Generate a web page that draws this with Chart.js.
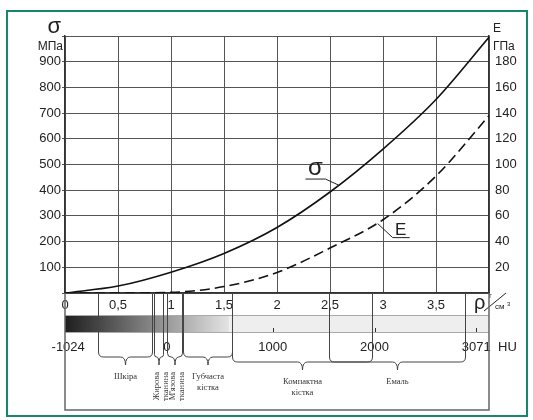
<!DOCTYPE html>
<html lang="uk">
<head>
<meta charset="UTF-8">
<title>σ та E від густини</title>
<script src="https://cdn.jsdelivr.net/npm/chart.js"></script>
<style>
  body { margin: 0; background: #fff; }
</style>
</head>
<body>
<canvas id="chart" width="533" height="420"></canvas>
<script>
// density, g/cm3
const rho = [0, 0.5, 1, 1.5, 2, 2.5, 3, 3.5, 4];
// strength, MPa (solid)
const sigmaMPa = [0, 27, 81, 154, 255, 393, 560, 753, 995];
// elastic modulus, GPa (dashed)
const modulusGPa = [0, 0, 0.5, 5, 16, 35, 57, 91, 138];

const rhoTickLabels = ['0', '0,5', '1', '1,5', '2', '2,5', '3', '3,5', ''];

// Hounsfield scale under the density axis
const huLabels = ['-1024', '0', '1000', '2000', '3071'];
const huAtRho = [0.03, 0.96, 1.96, 2.92, 3.88];

// tissue ranges on the density axis
const tissueNames = ['Шкіра', 'Жирова тканина', "М'язова тканина", 'Губчаста кістка', 'Компактна кістка', 'Емаль'];
const tissueFrom = [0.31, 0.84, 0.96, 1.11, 1.58, 2.49];
const tissueTo = [0.82, 0.92, 1.10, 1.58, 2.90, 3.77];

const ink = '#222';
const gridColor = '#555';

const lowerPart = {
  id: 'lowerPart',
  beforeDraw(chart) {
    const ctx = chart.ctx;
    ctx.save();
    ctx.fillStyle = '#fff';
    ctx.fillRect(0, 0, chart.width, chart.height);
    ctx.strokeStyle = '#17876b';
    ctx.lineWidth = 2;
    ctx.strokeRect(7, 11, 520, 405);
    ctx.restore();
  },
  afterDraw(chart) {
    const ctx = chart.ctx;
    const x = chart.scales.x, y = chart.scales.y, y2 = chart.scales.y2;
    const px = v => x.getPixelForValue(v);
    const base = chart.chartArea.bottom;
    ctx.save();

    // axis titles
    ctx.fillStyle = ink;
    ctx.textBaseline = 'middle';
    ctx.font = '22px "Liberation Sans"';
    ctx.textAlign = 'right';
    ctx.fillText('σ', 61, 27);
    ctx.font = '12px "Liberation Sans"';
    ctx.fillText('МПа', 63, 47);
    ctx.textAlign = 'left';
    ctx.fillText('E', 493, 29);
    ctx.fillText('ГПа', 493, 47);

    // density unit
    ctx.font = '20px "Liberation Sans"';
    ctx.fillText('ρ', 474, 303);
    ctx.font = '8px "Liberation Sans"';
    ctx.fillText('г', 489, 296);
    ctx.fillText('см', 495, 307);
    ctx.font = '6px "Liberation Sans"';
    ctx.fillText('3', 507, 304);
    ctx.strokeStyle = ink;
    ctx.lineWidth = 1;
    ctx.beginPath();
    ctx.moveTo(484, 311);
    ctx.lineTo(506, 293);
    ctx.stroke();

    // grey scale bar
    const barTop = base + 22, barH = 18;
    const g = ctx.createLinearGradient(px(0), 0, px(1.55), 0);
    g.addColorStop(0, '#1e1e1e');
    g.addColorStop(0.45, '#777');
    g.addColorStop(0.8, '#bdbdbd');
    g.addColorStop(1, '#e4e4e4');
    ctx.fillStyle = g;
    ctx.fillRect(px(0), barTop, px(1.55) - px(0), barH);
    ctx.fillStyle = '#eeeeee';
    ctx.fillRect(px(1.55), barTop, px(4) - px(1.55), barH);
    ctx.strokeStyle = '#aaa';
    ctx.beginPath();
    ctx.moveTo(px(0), barTop + 0.5); ctx.lineTo(px(4), barTop + 0.5);
    ctx.moveTo(px(0), barTop + barH - 0.5); ctx.lineTo(px(4), barTop + barH - 0.5);
    ctx.stroke();

    // HU labels
    ctx.fillStyle = ink;
    ctx.font = '13px "Liberation Sans"';
    ctx.textAlign = 'center';
    huLabels.forEach((t, i) => ctx.fillText(t, px(huAtRho[i]), base + 54));
    ctx.textAlign = 'left';
    ctx.fillText('HU', 498, base + 54);
    ctx.strokeStyle = '#333';
    ctx.beginPath();
    huAtRho.slice(2).forEach(r => {
      ctx.moveTo(Math.round(px(r)) + 0.5, barTop + barH - 5);
      ctx.lineTo(Math.round(px(r)) + 0.5, barTop + barH - 1);
    });
    ctx.stroke();

    // tissue braces
    ctx.strokeStyle = '#444';
    ctx.lineWidth = 1;
    tissueNames.forEach((name, i) => {
      const x1 = Math.round(px(tissueFrom[i])) + 0.5;
      const x2 = Math.round(px(tissueTo[i])) + 0.5;
      const w = x2 - x1, xm = (x1 + x2) / 2;
      const level = w > 100 ? base + 69 : base + 64;
      const tip = level + 8;
      const r = Math.min(5, w / 4);
      ctx.beginPath();
      ctx.moveTo(x1, base);
      ctx.lineTo(x1, level - r);
      ctx.quadraticCurveTo(x1, level, x1 + r, level);
      ctx.lineTo(xm - r, level);
      ctx.quadraticCurveTo(xm, level, xm, tip);
      ctx.quadraticCurveTo(xm, level, xm + r, level);
      ctx.lineTo(x2 - r, level);
      ctx.quadraticCurveTo(x2, level, x2, level - r);
      ctx.lineTo(x2, base);
      ctx.stroke();

      const words = name.split(' ');
      ctx.fillStyle = '#333';
      ctx.font = '8.5px "Liberation Serif"';
      if (w < 20) {
        words.forEach((wd, j) => {
          ctx.save();
          ctx.translate(xm - 2 + j * 9, tip + 7);
          ctx.rotate(-Math.PI / 2);
          ctx.textAlign = 'right';
          ctx.textBaseline = 'middle';
          ctx.fillText(wd, 0, 0);
          ctx.restore();
        });
      } else {
        ctx.textAlign = 'center';
        ctx.textBaseline = 'middle';
        words.forEach((wd, j) => ctx.fillText(wd, xm, tip + 12 + j * 11));
      }
    });

    // box round the lower part
    ctx.strokeStyle = '#666';
    ctx.lineWidth = 1.5;
    ctx.beginPath();
    ctx.moveTo(px(0), base);
    ctx.lineTo(px(0), 410);
    ctx.lineTo(px(4), 410);
    ctx.lineTo(px(4), base);
    ctx.stroke();

    // curve labels with leaders
    ctx.strokeStyle = ink;
    ctx.lineWidth = 1;
    ctx.fillStyle = ink;
    ctx.textAlign = 'center';
    ctx.textBaseline = 'middle';
    let ax = px(2.58), ay = y.getPixelForValue(420);
    ctx.beginPath();
    ctx.moveTo(ax, ay);
    ctx.lineTo(ax - 13, ay - 6);
    ctx.lineTo(ax - 33, ay - 6);
    ctx.stroke();
    ctx.font = '24px "Liberation Sans"';
    ctx.fillText('σ', ax - 23, ay - 17);

    ax = px(2.95); ay = y2.getPixelForValue(54);
    ctx.beginPath();
    ctx.moveTo(ax, ay);
    ctx.lineTo(ax + 15, ay + 14);
    ctx.lineTo(ax + 32, ay + 14);
    ctx.stroke();
    ctx.font = '17px "Liberation Sans"';
    ctx.fillText('E', ax + 23, ay + 7);

    ctx.restore();
  }
};

new Chart(document.getElementById('chart'), {
  type: 'line',
  data: {
    datasets: [
      {
        label: 'σ, МПа',
        data: rho.map((r, i) => ({ x: r, y: sigmaMPa[i] })),
        borderColor: '#111',
        borderWidth: 1.6,
        pointRadius: 0,
        cubicInterpolationMode: 'monotone',
        yAxisID: 'y'
      },
      {
        label: 'E, ГПа',
        data: rho.map((r, i) => ({ x: r, y: modulusGPa[i] })),
        borderColor: '#111',
        borderWidth: 1.6,
        borderDash: [10, 5],
        pointRadius: 0,
        cubicInterpolationMode: 'monotone',
        yAxisID: 'y2'
      }
    ]
  },
  options: {
    responsive: false,
    animation: false,
    layout: { padding: { top: 36, left: 0, right: 0, bottom: 0 } },
    plugins: { legend: { display: false }, tooltip: { enabled: false } },
    scales: {
      x: {
        type: 'linear',
        min: 0,
        max: 4,
        afterFit: s => { s.height = 127; },
        grid: { color: gridColor, drawTicks: false },
        border: { color: '#333', width: 1.5 },
        ticks: {
          stepSize: 0.5,
          autoSkip: false,
          maxRotation: 0,
          padding: 5,
          color: ink,
          font: { size: 13, family: 'Liberation Sans' },
          callback: (v, i) => rhoTickLabels[i]
        }
      },
      y: {
        min: 0,
        max: 1000,
        afterFit: s => { s.width = 65; },
        grid: { color: gridColor, tickLength: 3 },
        border: { color: '#333', width: 1.5 },
        ticks: {
          stepSize: 100,
          padding: 1,
          color: ink,
          font: { size: 13, family: 'Liberation Sans' },
          callback: v => (v > 0 && v < 1000 ? v : '')
        }
      },
      y2: {
        position: 'right',
        min: 0,
        max: 200,
        afterFit: s => { s.width = 44; },
        grid: { display: false, drawTicks: false },
        border: { color: '#333', width: 1.5 },
        ticks: {
          stepSize: 20,
          padding: 6,
          color: ink,
          font: { size: 13, family: 'Liberation Sans' },
          callback: v => (v > 0 && v < 200 ? v : '')
        }
      }
    }
  },
  plugins: [lowerPart]
});
</script>
</body>
</html>
